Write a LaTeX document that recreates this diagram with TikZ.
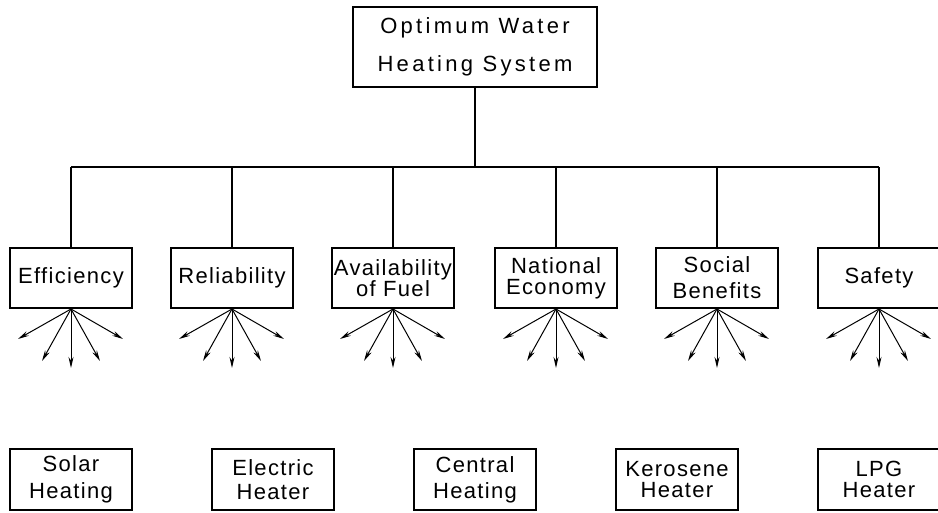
\documentclass[tikz,border=0pt]{standalone}
\usepackage{fontspec}
\setmainfont{Liberation Sans}
\newfontfamily\topfont[LetterSpace=15]{Liberation Sans}
\newfontfamily\boxfont[LetterSpace=6]{Liberation Sans}
\usetikzlibrary{arrows.meta}
\begin{document}
\begin{tikzpicture}[x=1pt,y=-1pt,
  topbox/.style={draw, line width=2pt, minimum width=244pt, minimum height=80pt, inner sep=0pt,
    align=center, font=\topfont\fontsize{22}{38}\selectfont},
  midbox/.style={draw, line width=2pt, minimum width=122pt, minimum height=60pt, inner sep=0pt,
    align=center, font=\boxfont\fontsize{22}{#1}\selectfont},
  midbox/.default=22,
  botbox/.style={draw, line width=2pt, minimum width=122pt, minimum height=61pt, inner sep=0pt,
    align=center, font=\boxfont\fontsize{22}{#1}\selectfont},
  botbox/.default=24,
  link/.style={line width=2pt},
  fan/.style={line width=1pt, -{Stealth[length=11pt,width=5pt]}}
]
\useasboundingbox (0,0) rectangle (938,512);
\clip (0,0) rectangle (938,512);

\node[topbox] (top) at (475,47) {Optimum Water\\Heating System};

\node[midbox] (c1) at (71,278) {Efficiency};
\node[midbox] (c2) at (232,278) {Reliability};
\node[midbox=20] (c3) at (393,278) {Availability\\of Fuel};
\node[midbox=21] (c4) at (556,278) {National\\Economy};
\node[midbox=26] (c5) at (717,278) {Social\\Benefits};
\node[midbox] (c6) at (879,278) {Safety};

\node[botbox=27] (a1) at (71,479.5) {Solar\\Heating};
\node[botbox=24] (a2) at (273,479.5) {Electric\\Heater};
\node[botbox=26] (a3) at (475,479.5) {Central\\Heating};
\node[botbox=21] (a4) at (677,479.5) {Kerosene\\Heater};
\node[botbox=21] (a5) at (879,479.5) {LPG\\Heater};

\coordinate (bar) at (475,167);
\draw[link] (top.south) -- (bar);
\draw[link] (c1.north |- bar) -- (c6.north |- bar);
\foreach \i in {1,...,6}{
  \draw[link] (c\i.north |- bar) -- (c\i.north);
  \draw[fan] (c\i.south) -- ++(-53,30);
  \draw[fan] (c\i.south) -- ++(-29,52);
  \draw[fan] (c\i.south) -- ++(0,59);
  \draw[fan] (c\i.south) -- ++(29,52);
  \draw[fan] (c\i.south) -- ++(52,30);
}
\end{tikzpicture}
\end{document}
